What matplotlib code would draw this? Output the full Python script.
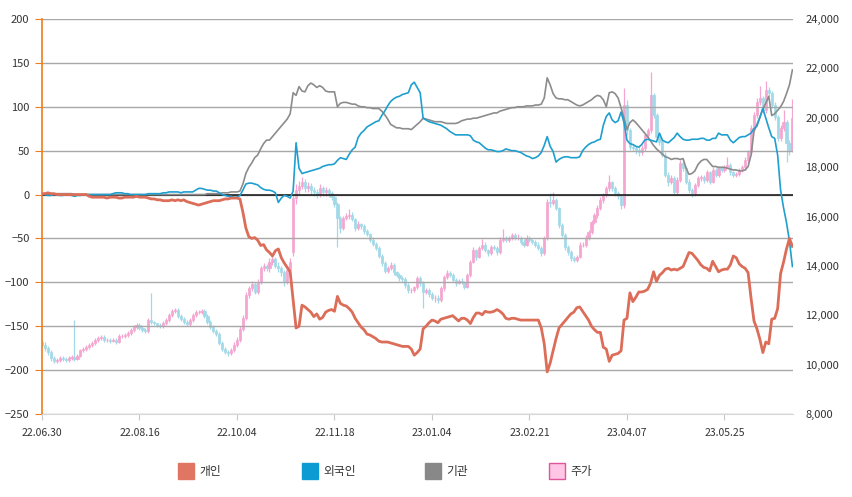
import matplotlib
matplotlib.use('Agg')
import matplotlib.pyplot as plt
from matplotlib.patches import Rectangle
from matplotlib.ticker import FuncFormatter

plt.rcParams['font.family'] = ['Noto Sans CJK KR', 'DejaVu Sans']

tick_labels = ['22.06.30', '22.08.16', '22.10.04', '22.11.18', '23.01.04', '23.02.21', '23.04.07', '23.05.25']
tick_index = [0, 33, 66, 99, 132, 165, 198, 231]
legend_labels = ['개인', '외국인', '기관', '주가']

individual = [1,1,2,1,1,0,0,0,0,0,
0,0,0,0,0,0,-2,-3,-3,-3,
-3,-3,-4,-3,-3,-3,-4,-4,-3,-3,
-3,-3,-2,-3,-3,-3,-4,-5,-5,-6,
-6,-7,-7,-7,-6,-7,-6,-7,-6,-8,
-9,-10,-11,-12,-11,-10,-9,-8,-7,-7,
-7,-6,-5,-5,-4,-4,-4,-5,-20,-38,
-48,-50,-49,-52,-58,-57,-63,-66,-70,-64,
-62,-72,-78,-83,-88,-120,-152,-150,-126,-128,
-131,-134,-139,-136,-142,-140,-134,-132,-131,-133,
-116,-124,-126,-127,-130,-134,-141,-146,-151,-154,
-159,-160,-162,-164,-167,-168,-168,-168,-169,-170,
-171,-172,-173,-173,-173,-176,-183,-180,-176,-153,
-150,-146,-143,-144,-146,-142,-141,-140,-139,-138,
-141,-144,-141,-141,-143,-147,-140,-135,-135,-137,
-133,-134,-134,-133,-131,-133,-136,-141,-142,-141,
-141,-142,-143,-143,-143,-143,-143,-143,-143,-152,
-170,-202,-192,-178,-164,-152,-148,-144,-140,-136,
-134,-129,-128,-133,-138,-143,-150,-154,-157,-157,
-174,-176,-190,-183,-182,-181,-178,-143,-141,-112,
-122,-117,-111,-111,-110,-108,-101,-88,-99,-92,
-89,-85,-84,-86,-85,-86,-84,-82,-74,-66,
-67,-71,-75,-80,-83,-84,-87,-76,-82,-88,
-86,-85,-85,-80,-70,-72,-79,-82,-84,-89,
-118,-144,-153,-165,-180,-168,-170,-142,-141,-130,
-90,-77,-62,-50,-59]

foreign = [0,0,-1,-1,0,0,-1,-1,0,0,
-1,-2,-1,-1,0,0,0,0,0,0,
0,0,0,0,1,2,2,2,1,1,
0,0,0,0,0,0,1,1,1,1,
1,2,2,3,3,3,3,2,3,3,
3,3,5,7,7,6,5,5,4,4,
2,0,-1,-2,-2,-3,-3,-1,5,12,
13,13,12,11,8,6,5,5,4,2,
-9,-4,-1,-2,-4,4,59,30,24,25,
26,27,28,29,30,32,33,34,34,35,
39,42,41,40,46,51,54,65,70,73,
77,79,81,83,84,90,95,101,106,109,
111,112,114,115,116,125,128,122,116,87,
85,83,82,81,80,79,77,75,72,70,
68,68,68,68,68,67,62,60,59,56,
53,51,51,50,49,49,50,52,51,50,
50,49,48,46,44,43,41,42,44,48,
56,66,55,49,37,40,42,43,43,42,
42,42,43,50,54,57,59,60,62,63,
79,89,93,85,82,84,94,82,62,58,
57,55,54,57,62,63,62,61,60,70,
62,60,59,62,65,70,66,63,62,62,
63,63,63,64,64,62,62,64,64,70,
68,68,68,62,59,62,65,66,66,68,
70,75,78,88,98,87,76,66,64,45,
5,-15,-32,-53,-82]

institution = [1,1,1,1,1,1,1,1,1,1,
1,0,0,0,0,0,0,0,0,0,
0,0,0,0,0,0,0,0,0,0,
0,0,0,0,0,0,0,0,0,0,
0,0,0,0,0,0,0,0,0,0,
0,0,0,0,0,0,1,1,1,1,
1,2,2,2,3,3,3,4,12,24,
31,36,42,45,52,58,62,62,66,70,
74,78,82,86,92,116,113,123,118,117,
124,127,125,122,124,122,118,117,117,117,
100,104,105,105,104,103,103,101,100,100,
99,99,98,98,98,95,91,86,80,78,
76,76,75,75,75,74,77,80,83,87,
86,85,84,83,83,83,82,81,81,81,
81,82,84,85,86,86,87,87,88,89,
90,91,92,93,93,95,96,97,98,99,
99,100,100,100,101,101,101,102,102,103,
110,133,125,115,110,109,109,108,108,106,
104,102,101,102,104,106,108,111,113,112,
108,100,116,117,115,110,99,87,74,82,
85,82,78,74,70,66,61,56,52,49,
46,43,42,40,41,41,40,41,30,23,
24,27,34,38,40,40,36,32,32,31,
31,31,30,29,28,28,27,27,28,32,
45,72,80,88,98,104,112,90,92,96,
100,106,115,125,142]

opens = [10920,10800,10670,10510,10270,10150,10190,10270,10230,10190,
10270,10310,10230,10350,10590,10630,10710,10800,10880,11000,
11080,11120,11000,11000,10960,11000,10920,11160,11160,11200,
11280,11400,11520,11600,11480,11400,11360,11810,11730,11690,
11600,11560,11690,11810,12010,12170,12210,11970,11850,11730,
11650,11810,12010,12130,12130,12170,11970,11730,11520,11360,
11240,10880,10630,10510,10470,10590,10800,11000,11440,11890,
12820,13100,13270,12940,13350,13910,13990,13910,14160,14280,
13990,13910,13750,13350,13830,14560,16750,17070,17230,17400,
17150,17230,17070,16990,16910,17150,16990,17070,16950,16790,
16510,15940,15530,15940,16020,16060,15900,15530,15700,15610,
15410,15290,15050,14890,14720,14400,14120,13790,13910,14030,
13750,13630,13510,13470,13220,13020,13020,13140,13510,13310,
12940,13020,12860,12700,12700,12620,13100,13550,13710,13630,
13430,13310,13390,13350,13140,13630,14160,14640,14360,14720,
14850,14640,14520,14760,14720,14560,15050,15130,15050,15130,
15250,15130,15130,14970,14850,15130,15050,14970,14850,14720,
14520,15130,16590,16550,16670,16340,15650,15250,14760,14560,
14320,14240,14360,14850,14850,15130,15370,15780,16060,16340,
16670,16870,17150,17400,17150,16950,16830,16470,20520,19500,
18810,18770,18690,18610,18770,19300,19500,20920,20110,19220,
19020,18490,17680,17400,17560,16990,17480,18170,17960,17400,
17070,16950,17270,17560,17600,17480,17800,17400,17880,17680,
17960,17880,18000,18080,17800,17680,17720,17880,18000,18290,
18610,19580,20110,20640,20800,20310,21120,21000,20520,20030,
19180,19580,19830,18980,18690]

closes = [10800,10670,10510,10270,10150,10190,10270,10230,10190,10270,
10310,10230,10350,10590,10630,10710,10800,10880,11000,11080,
11120,11000,11000,10960,11000,10920,11160,11160,11200,11280,
11400,11520,11600,11480,11400,11360,11810,11730,11690,11600,
11560,11690,11810,12010,12170,12210,11970,11850,11730,11650,
11810,12010,12130,12130,12170,11970,11730,11520,11360,11240,
10880,10630,10510,10470,10590,10800,11000,11440,11890,12820,
13100,13270,12940,13350,13910,13990,13910,14160,14280,13990,
13910,13750,13350,13830,14160,16750,17070,17230,17400,17150,
17230,17070,16990,16910,17150,16990,17070,16950,16790,16510,
15940,15530,15940,16020,16060,15900,15530,15700,15610,15410,
15290,15050,14890,14720,14400,14120,13790,13910,14030,13750,
13630,13510,13470,13220,13020,13020,13140,13510,13310,12940,
13020,12860,12700,12700,12620,13100,13550,13710,13630,13430,
13310,13390,13350,13140,13630,14160,14640,14360,14720,14850,
14640,14520,14760,14720,14560,15050,15130,15050,15130,15250,
15130,15130,14970,14850,15130,15050,14970,14850,14720,14520,
15130,16590,16550,16670,16340,15650,15250,14760,14560,14320,
14240,14360,14850,14850,15130,15370,15780,16060,16340,16670,
16870,17150,17400,17150,16950,16830,16470,20520,19500,18810,
18770,18690,18610,18770,19300,19500,20920,20110,19220,19020,
18490,17680,17400,17560,16990,17480,18170,17960,17400,17070,
16950,17270,17560,17600,17480,17800,17400,17880,17680,17960,
17880,18000,18080,17800,17680,17720,17880,18000,18290,18610,
19580,20110,20640,20800,20310,21120,21000,20520,20030,19180,
19580,19830,18980,18690,19990]

highs = [11000,10900,10750,10600,10350,10280,10350,10350,10300,10350,
10400,11810,10420,10650,10700,10800,10880,10960,11080,11160,
11200,11180,11080,11060,11070,11080,11240,11250,11280,11350,
11480,11600,11700,11680,11560,11470,11900,12900,11780,11700,
11680,11770,11900,12100,12250,12300,12280,12050,11930,11800,
11890,12090,12220,12220,12250,12250,12050,11800,11600,11450,
11320,10960,10720,10600,10680,10900,11100,11550,12000,12950,
13200,13400,13350,13450,14000,14100,14080,14300,14500,14350,
14150,14000,13850,13950,14300,16900,17300,17450,17600,17500,
17400,17350,17200,17100,17300,17250,17200,17150,17050,16900,
16600,16000,16000,16150,16300,16200,15950,15800,15750,15700,
15500,15350,15150,14950,14800,14500,14200,14000,14150,14100,
13800,13700,13600,13550,13300,13100,13200,13600,13600,13400,
13100,13100,12950,12800,12800,13200,13650,13850,13800,13700,
13500,13450,13500,13400,13700,14250,14750,14700,14800,15100,
14950,14700,14850,14850,14800,15150,15500,15200,15200,15350,
15350,15300,15200,15100,15250,15200,15100,15050,14950,14800,
15200,16700,16950,17000,16750,16400,15750,15350,14850,14650,
14400,14450,14950,14950,15250,15450,15850,16150,16450,16800,
16950,17250,17700,17450,17250,17050,16900,21200,20700,19600,
18950,18850,18800,18900,19400,19600,21850,21000,20200,19300,
19100,18600,17800,17700,17650,17600,18300,18250,18050,17500,
17150,17350,17650,17700,17700,17900,17850,18000,17950,18050,
18050,18100,18400,18150,17850,17800,17950,18100,18400,18700,
19700,20250,20800,21300,20900,21500,21250,21100,20650,20100,
19700,20300,19900,19100,20750]

lows = [10700,10550,10400,10150,10050,10080,10120,10150,10100,10120,
10200,10150,10170,10300,10520,10560,10640,10730,10800,10930,
11000,10930,10920,10890,10900,10850,10860,11080,11080,11120,
11200,11330,11450,11400,11320,11280,11300,11650,11620,11530,
11480,11500,11620,11740,11930,12100,11900,11780,11650,11570,
11580,11740,11940,12050,12050,11900,11650,11440,11280,11150,
10800,10550,10420,10350,10400,10520,10720,10920,11350,11800,
12700,13000,12850,12850,13250,13800,13800,13750,14050,13900,
13750,13600,13200,13250,13700,14400,16500,16900,17100,17000,
17000,16900,16850,16750,16800,16850,16850,16800,16650,16400,
14750,15350,15450,15850,15900,15800,15400,15450,15500,15300,
15200,14950,14800,14650,14300,14000,13700,13700,13850,13650,
13550,13400,13350,13100,12900,12900,12950,13050,13200,12300,
12850,12750,12600,12550,12500,12550,13000,13450,13550,13350,
13200,13250,13250,13050,13100,13550,14100,14250,14300,14650,
14550,14400,14450,14650,14450,14500,14950,14950,14950,15050,
15050,15050,14900,14750,14800,14950,14900,14750,14650,14400,
14450,15050,16400,16450,16250,15550,15150,14650,14450,14200,
14150,14150,14300,14750,14750,15050,15300,15700,15950,16250,
16550,16800,17050,17050,16850,16700,16300,16350,19300,18700,
18650,18550,18450,18500,18650,19200,19400,20000,19100,18900,
18400,17600,17250,17300,16900,16900,17400,17850,17300,16950,
16800,16850,17200,17450,17350,17400,17300,17350,17600,17600,
17800,17800,17950,17700,17600,17600,17650,17800,17900,18200,
18500,19450,20000,20500,20200,20200,20900,20400,19900,19050,
19050,19450,18200,18500,18600]

W, H = 853, 497
fig = plt.figure(figsize=(W / 100, H / 100), dpi=100)
ax = fig.add_axes([42 / W, 83 / H, 751 / W, 395 / H])
ax2 = ax.twinx()
ax.set_zorder(2)
ax2.set_zorder(1)
ax.patch.set_visible(False)

n = len(closes)
xs = list(range(n))

UP = '#f5a6d0'
DOWN = '#a2d9e8'
cols = [UP if c >= o else DOWN for o, c in zip(opens, closes)]
ax2.vlines(xs, lows, highs, colors=cols, linewidth=0.9)
bottoms = [min(o, c) for o, c in zip(opens, closes)]
heights = [abs(c - o) for o, c in zip(opens, closes)]
ax2.bar(xs, heights, bottom=bottoms, width=0.72, color=cols, edgecolor=cols, linewidth=0.5)
ax2.set_ylim(8000, 24000)
ax2.set_yticks(range(8000, 24001, 2000))
ax2.yaxis.set_major_formatter(FuncFormatter(lambda v, p: f'{v:,.0f}'))
ax2.tick_params(axis='y', length=0, pad=9, labelsize=8, labelcolor='#333333')
for s in ax2.spines.values():
    s.set_visible(False)

ax.set_ylim(-250, 200)
ax.set_yticks(range(-250, 201, 50))
ax.grid(axis='y', color='#a8a8a8', linewidth=1)
ax.set_axisbelow(True)
ax.axhline(0, color='#111111', linewidth=1.1, zorder=1.5)
ax.plot(xs, institution, color='#8c8c8c', linewidth=1.2, zorder=3)
ax.plot(xs, foreign, color='#1f9fcf', linewidth=1.2, zorder=3)
ax.plot(xs, individual, color='#dc6d58', linewidth=2.0, zorder=4)

ax.set_xlim(0, n - 0.8)
ax.set_xticks(tick_index)
ax.set_xticklabels(tick_labels)
ax.tick_params(axis='x', length=4, color='#c8c8c8', labelsize=7.5, pad=6, labelcolor='#333333')
ax.tick_params(axis='y', length=5, color='#f07d1a', labelsize=8, pad=4, labelcolor='#333333')
for k in ['top', 'right']:
    ax.spines[k].set_visible(False)
ax.spines['left'].set_color('#f07d1a')
ax.spines['left'].set_linewidth(1.2)
ax.spines['bottom'].set_color('#d8d8d8')

leg_colors = [('#e07563', None), ('#0d9bd4', None), ('#888888', None), ('#ffc6e5', '#e0559b')]
leg_x = [178, 302, 425, 549]
for lab, (fc, ec), lx in zip(legend_labels, leg_colors, leg_x):
    rect = Rectangle((lx / W, (497 - 479) / H), 16 / W, 16 / H, transform=fig.transFigure,
                     facecolor=fc, edgecolor=ec if ec else fc, linewidth=1)
    fig.add_artist(rect)
    fig.text((lx + 21) / W, (497 - 471) / H, lab, fontsize=8.5, va='center', ha='left', color='#333333')

fig.savefig('out.png', dpi=100)
